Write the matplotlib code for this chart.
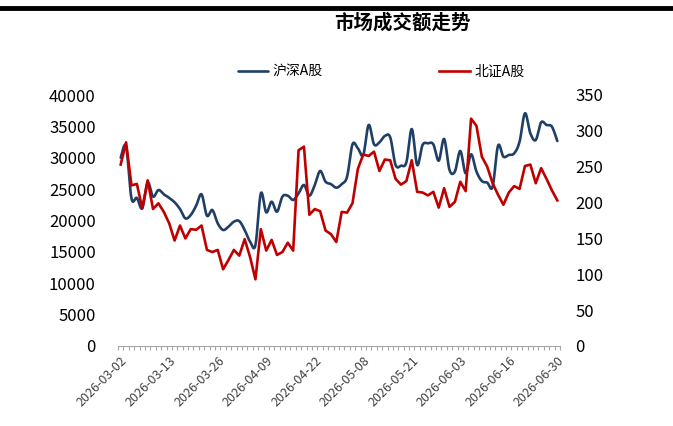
import numpy as np
import pandas as pd
import matplotlib
matplotlib.use("Agg")
import matplotlib.pyplot as plt
from matplotlib.lines import Line2D

plt.rcParams['font.family'] = ['Noto Sans CJK SC', 'DejaVu Sans']

# ---------------- data ----------------
title = "市场成交额走势"
series_names = ["沪深A股", "北证A股"]
start_date = "2026-03-02"
end_date = "2026-06-30"
holidays = ["2026-04-06", "2026-05-01", "2026-05-04", "2026-05-05", "2026-06-19"]

# 沪深A股 turnover (left axis)
hs_values = [30010, 31800, 23530, 23600, 21940, 26080, 23800, 24860, 24170, 23600,
             22900, 21830, 20340, 20880, 22360, 24170, 20770, 21670, 19550, 18490,
             19020, 19810, 19900, 18490, 16630, 16100, 24330, 21300, 23000, 21400,
             23800, 23950, 23270, 24330, 25660, 23950, 25660, 27890, 26190, 25800,
             25230, 25800, 26990, 32140, 31500, 30440, 35220, 32140, 32460, 33470,
             33260, 28840, 28730, 29270, 34580, 28840, 32030, 32300, 32140, 29530,
             32990, 28050, 27800, 31080, 27520, 30550, 27800, 26290, 26030, 25390,
             31920, 30170, 30440, 30700, 32560, 37080, 33890, 32830, 35650, 35220,
             34950, 32670]

# 北证A股 turnover (right axis)
bz_values = [253, 284, 224, 226, 192, 231, 191, 199, 187, 171,
             147, 168, 150, 163, 162, 168, 134, 131, 134, 107,
             120, 134, 126, 149, 124, 93, 163, 133, 148, 127,
             131, 144, 133, 273, 278, 183, 191, 188, 161, 156,
             145, 187, 186, 199, 247, 267, 265, 271, 244, 260,
             259, 233, 225, 230, 259, 215, 214, 210, 215, 193,
             220, 194, 201, 229, 216, 317, 307, 264, 250, 227,
             211, 197, 214, 223, 219, 251, 253, 227, 248, 233,
             217, 203]

left_ticks = [0, 5000, 10000, 15000, 20000, 25000, 30000, 35000, 40000]
right_ticks = [0, 50, 100, 150, 200, 250, 300, 350]
label_step = 9

dates = pd.bdate_range(start_date, end_date, freq="C", holidays=holidays)
date_labels = [d.strftime("%Y-%m-%d") for d in dates]

# ---------------- helpers ----------------
def smooth(xs, ys, n=16):
    xs = np.asarray(xs, float)
    ys = np.asarray(ys, float)
    px = np.concatenate([[xs[0]], xs, [xs[-1]]])
    py = np.concatenate([[ys[0]], ys, [ys[-1]]])
    outx, outy = [], []
    t = np.linspace(0, 1, n, endpoint=False)
    for i in range(1, len(px) - 2):
        p0x, p1x, p2x, p3x = px[i-1], px[i], px[i+1], px[i+2]
        p0y, p1y, p2y, p3y = py[i-1], py[i], py[i+1], py[i+2]
        c1x = p1x + (p2x - p0x) / 6
        c1y = p1y + (p2y - p0y) / 6
        c2x = p2x - (p3x - p1x) / 6
        c2y = p2y - (p3y - p1y) / 6
        bx = (1-t)**3*p1x + 3*(1-t)**2*t*c1x + 3*(1-t)*t**2*c2x + t**3*p2x
        by = (1-t)**3*p1y + 3*(1-t)**2*t*c1y + 3*(1-t)*t**2*c2y + t**3*p2y
        outx.extend(bx); outy.extend(by)
    outx.append(xs[-1]); outy.append(ys[-1])
    return np.array(outx), np.array(outy)

# ---------------- figure ----------------
W, H = 673, 426
fig = plt.figure(figsize=(W/100, H/100), dpi=100)
fig.patch.set_facecolor("white")

L, R, B, T = 118, 560, 346, 95
ax = fig.add_axes([L/W, 1 - B/H, (R-L)/W, (B-T)/H])
ax2 = ax.twinx()

x = np.arange(len(date_labels))
blue = "#203F66"
red = "#C00000"

sx, sy = smooth(x, hs_values)
l1, = ax.plot(sx, sy, color=blue, lw=1.9, solid_capstyle="round", zorder=3)
l2, = ax2.plot(x, bz_values, color=red, lw=1.9, solid_joinstyle="round", zorder=4)

ax.set_xlim(-0.5, len(x) - 0.5)
ax.set_ylim(0, 40000)
ax2.set_ylim(0, 350)
ax.set_yticks(left_ticks)
ax2.set_yticks(right_ticks)
ax.set_yticklabels([str(v) for v in left_ticks])
ax2.set_yticklabels([str(v) for v in right_ticks])

ax.set_xticks(x[::label_step])
ax.set_xticklabels(date_labels[::label_step], rotation=45, ha="right", va="top",
                   rotation_mode="anchor", fontsize=9, color="#404040")
ax.set_xticks(np.arange(-0.5, len(x), 1), minor=True)
ax.tick_params(axis="x", which="major", length=0, pad=6)
ax.tick_params(axis="x", which="minor", length=3, color="#A6A6A6", width=0.8)

ax.tick_params(axis="y", length=0, pad=16, labelsize=12, labelcolor="#000000")
ax2.tick_params(axis="y", length=0, pad=11, labelsize=12, labelcolor="#000000")

for a in (ax, ax2):
    for s in ("top", "left", "right", "bottom"):
        a.spines[s].set_visible(False)
ax.spines["bottom"].set_visible(True)
ax.spines["bottom"].set_color("#A6A6A6")
ax.spines["bottom"].set_linewidth(0.8)

# title
fig.text(402/W, 1 - 23/H, title, ha="center", va="center", fontsize=14,
         fontweight="bold", color="#000000")

# top black rule
fig.add_artist(Line2D([0, 1], [1 - 8/H, 1 - 8/H], transform=fig.transFigure,
                      color="black", lw=3.5))

# legend
fig.legend([l1, l2], series_names, loc="center", bbox_to_anchor=(381/W, 1 - 72/H),
           ncol=2, frameon=False, fontsize=10, handlelength=2.2,
           handletextpad=0.3, columnspacing=8.4)

fig.savefig("out.png", dpi=100, facecolor="white")
